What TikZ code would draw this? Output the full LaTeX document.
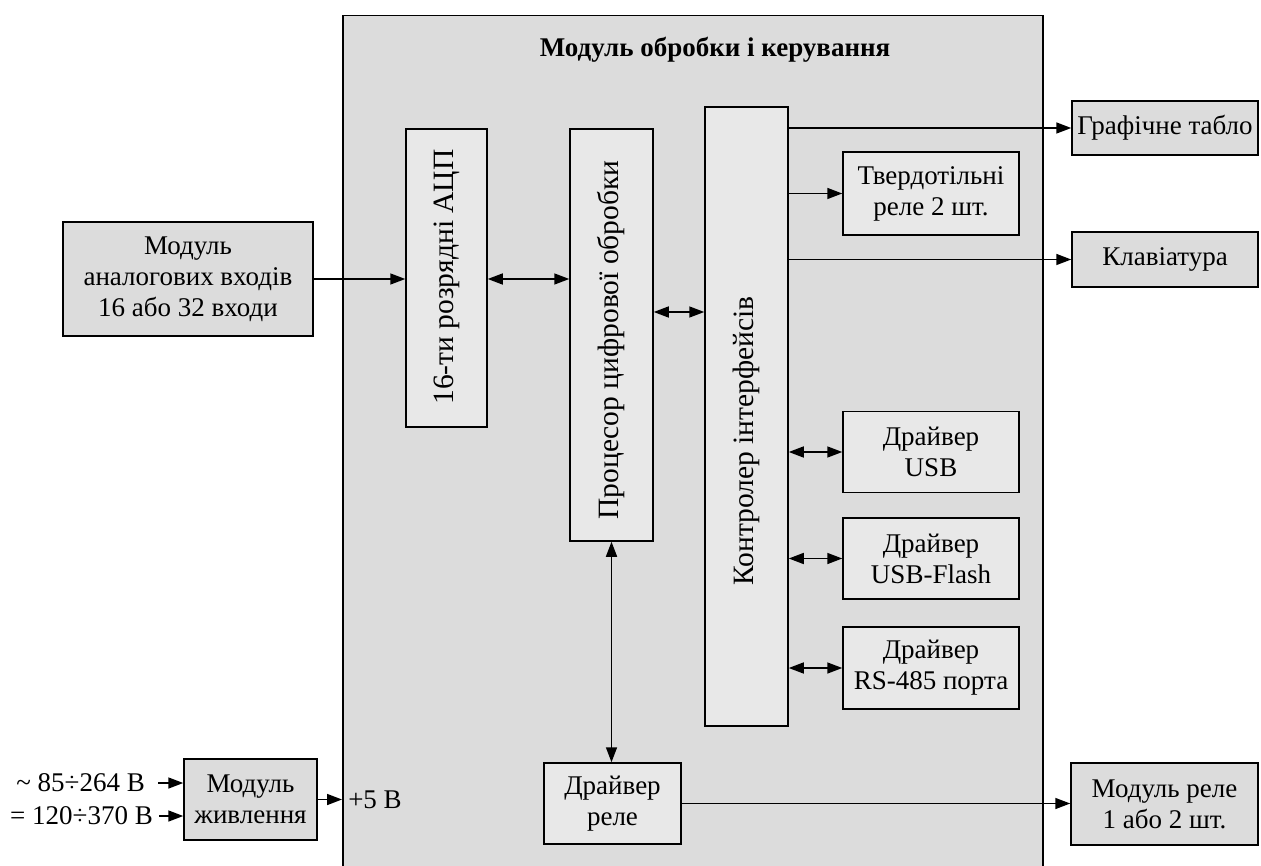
\documentclass[tikz,border=0pt]{standalone}
\usepackage{fontspec}
\setmainfont{Liberation Serif}
\usetikzlibrary{arrows.meta,calc}
\definecolor{bigfill}{HTML}{DCDCDC}
\definecolor{inner}{HTML}{E8E8E8}
\definecolor{outer}{HTML}{DCDCDC}
\begin{document}
\begin{tikzpicture}[x=1pt,y=-1pt,
  font=\fontsize{27}{31}\selectfont,
  >={Triangle[length=15pt,width=11pt]},
  ibox/.style={draw=black,line width=1.5pt,fill=inner,inner sep=0pt,align=center},
  obox/.style={draw=black,line width=1.5pt,fill=outer,inner sep=0pt,align=center},
  conn/.style={line width=1.6pt},
  lbl/.style={inner sep=0pt},
  vlbl/.style={inner sep=0pt,rotate=90,font=\fontsize{29.5}{33}\selectfont}]
\useasboundingbox (0,0) rectangle (1261,866);
% main module
\node[draw=black,line width=1.5pt,fill=bigfill,anchor=north west,minimum width=700pt,minimum height=870pt,inner sep=0pt] (main) at (342,15) {};
\node[lbl,font=\fontsize{27}{31}\selectfont\bfseries] (title) at (715,50) {Модуль обробки і керування};
% inner blocks
\node[ibox,minimum width=81pt,minimum height=298pt] (adc) at (446.5,278) {};
\node[vlbl] (adct) at (446.5,277) {16-ти розрядні АЦП};
\node[ibox,minimum width=83pt,minimum height=412pt] (proc) at (611.5,335) {};
\node[vlbl] (proct) at (611.5,340) {Процесор цифрової обробки};
\node[ibox,minimum width=83pt,minimum height=619pt] (ifc) at (746.5,416.5) {};
\node[vlbl] (ifct) at (746.5,441) {Контролер інтерфейсів};
\node[ibox,minimum width=176pt,minimum height=83pt] (tv) at (931,193.5) {Твердотільні\\реле 2 шт.};
\node[ibox,minimum width=176pt,minimum height=81pt] (usb) at (931,452) {Драйвер\\USB};
\node[ibox,minimum width=176pt,minimum height=81pt] (flash) at (931,558.5) {Драйвер\\USB-Flash};
\node[ibox,minimum width=176pt,minimum height=82pt] (rs) at (931,668) {Драйвер\\RS-485 порта};
\node[ibox,minimum width=137pt,minimum height=81pt] (drel) at (612.5,803.5) {Драйвер\\реле};
% outer blocks
\node[obox,minimum width=250pt,minimum height=114pt] (analog) at (188,279) {Модуль\\аналогових входів\\16 або 32 входи};
\node[obox,minimum width=186pt,minimum height=54pt] (graf) at (1165,128) {Графічне табло};
\node[obox,minimum width=186pt,minimum height=55pt] (klav) at (1165,259.5) {Клавіатура};
\node[obox,minimum width=187pt,minimum height=82pt] (mrel) at (1164.5,804) {Модуль реле\\1 або 2 шт.};
\node[obox,minimum width=133pt,minimum height=81pt] (pwr) at (250.5,799.5) {Модуль\\живлення};
% labels
\node[lbl,anchor=east] (ac) at (145,783) {\char"7E\ 85÷264 В};
\node[lbl,anchor=east] (dc) at (153,816) {= 120÷370 В};
\node[lbl] (p5) at (375,800) {+5 В};
\coordinate (yPI) at (0,312);
% connectors
\draw[conn,->] (analog.east) -- (analog.east -| adc.west);
\draw[conn,<->] (adc.east |- analog.east) -- (proc.west |- analog.east);
\draw[conn,<->] (proc.east |- yPI) -- (ifc.west |- yPI);
\draw[conn,->] (ifc.east |- graf.west) -- (graf.west);
\draw[conn,->] (ifc.east |- tv.west) -- (tv.west);
\draw[conn,->] (ifc.east |- klav.west) -- (klav.west);
\draw[conn,<->] (ifc.east |- usb.west) -- (usb.west);
\draw[conn,<->] (ifc.east |- flash.west) -- (flash.west);
\draw[conn,<->] (ifc.east |- rs.west) -- (rs.west);
\draw[conn,<->] (proc.south) -- (proc.south |- drel.north);
\draw[conn,->] (drel.east) -- (drel.east -| mrel.west);
\draw[conn,->] ([xshift=13pt]ac.east) -- (ac.east -| pwr.west);
\draw[conn,->] ([xshift=6pt]dc.east) -- (dc.east -| pwr.west);
\draw[conn,->] (pwr.east) -- (pwr.east -| main.west);
\end{tikzpicture}
\end{document}
